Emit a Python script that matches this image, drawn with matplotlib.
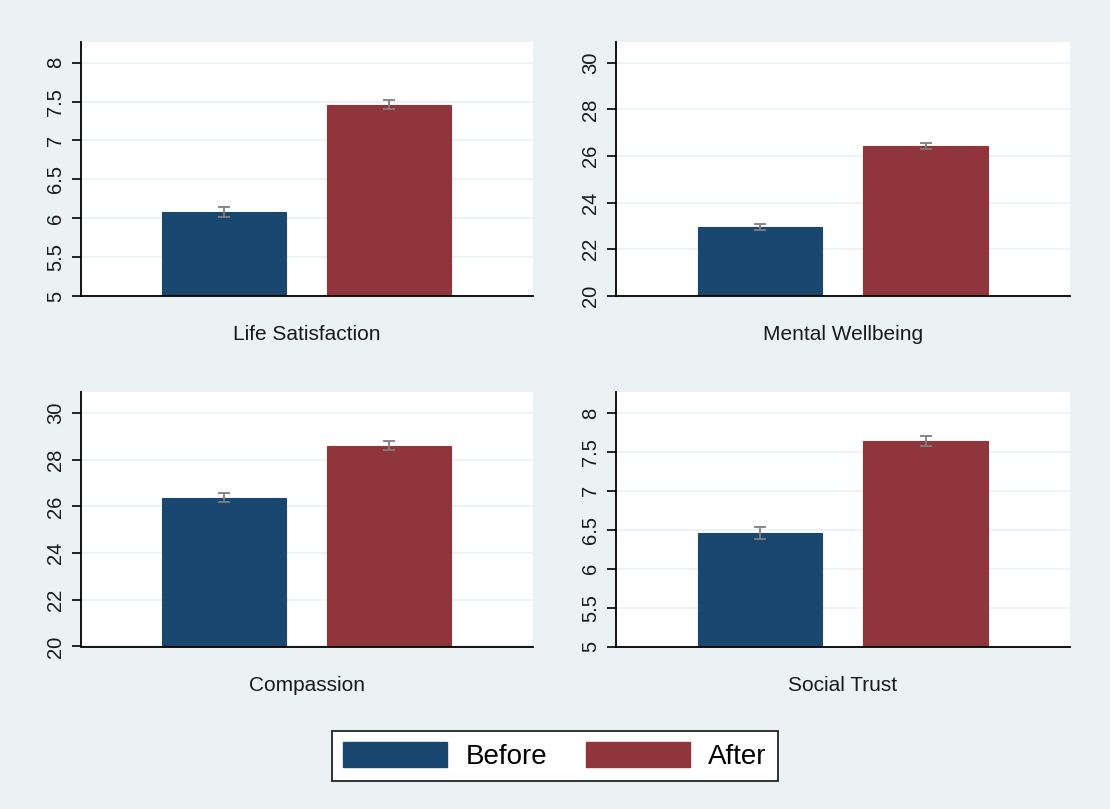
import matplotlib
matplotlib.use("Agg")
import matplotlib.pyplot as plt
from matplotlib.patches import Patch

plt.rcParams['font.family'] = ['Liberation Sans', 'DejaVu Sans']

# ---- data ----
categories = ['Life Satisfaction', 'Mental Wellbeing', 'Compassion', 'Social Trust']
before_vals = [6.08, 22.96, 26.38, 6.46]
after_vals = [7.46, 26.42, 28.60, 7.64]
before_err = [0.07, 0.14, 0.20, 0.08]
after_err = [0.06, 0.14, 0.20, 0.07]
series_names = ['Before', 'After']

ticks_small = [5, 5.5, 6, 6.5, 7, 7.5, 8]
ticks_small_labels = ['5', '5.5', '6', '6.5', '7', '7.5', '8']
ticks_large = [20, 22, 24, 26, 28, 30]
ticks_large_labels = ['20', '22', '24', '26', '28', '30']

panel_ticks = [(ticks_small, ticks_small_labels, (5, 8.27)),
               (ticks_large, ticks_large_labels, (20, 30.9)),
               (ticks_large, ticks_large_labels, (20, 30.9)),
               (ticks_small, ticks_small_labels, (5, 8.27))]

# ---- style ----
BG = '#EAF2F3'
NAVY = '#1A476F'
MAROON = '#90353B'
ERR = '#7f7f7f'

fig = plt.figure(figsize=(11.10, 8.09), dpi=100, facecolor=BG)

W, H = 1110, 809
def frac(x0, y0, x1, y1):
    return [x0 / W, 1 - y1 / H, (x1 - x0) / W, (y1 - y0) / H]

positions = [frac(81, 41.7, 533, 296), frac(616, 41.7, 1070, 296),
             frac(81, 392, 533, 646.5), frac(616, 392, 1070, 646.5)]

for i, cat in enumerate(categories):
    ax = fig.add_axes(positions[i])
    ax.set_facecolor('white')
    ticks, labels, ylim = panel_ticks[i]
    ax.bar(0, before_vals[i], width=0.75, color=NAVY, edgecolor=NAVY, linewidth=0.8, zorder=2)
    ax.bar(1, after_vals[i], width=0.75, color=MAROON, edgecolor=MAROON, linewidth=0.8, zorder=2)
    ax.errorbar([0, 1], [before_vals[i], after_vals[i]], yerr=[before_err[i], after_err[i]],
                fmt='none', ecolor=ERR, elinewidth=1.3, capsize=4, capthick=1.3, zorder=3)
    ax.set_xlim(-0.867, 1.87)
    ax.set_ylim(*ylim)
    ax.set_yticks(ticks)
    ax.set_yticklabels(labels, rotation=90, va='center')
    ax.set_xticks([])
    ax.yaxis.grid(True, color=BG, linewidth=1.3, zorder=0)
    ax.set_axisbelow(True)
    for s in ['top', 'right']:
        ax.spines[s].set_visible(False)
    for s in ['left', 'bottom']:
        ax.spines[s].set_color('black')
        ax.spines[s].set_linewidth(1.3)
        ax.spines[s].set_zorder(4)
    ax.tick_params(axis='y', direction='out', length=6.5, width=1.2, color='black',
                   labelsize=14.5, pad=5, labelcolor='#1a1a1a')
    ax.set_xlabel(cat, fontsize=15, labelpad=21, color='#1a1a1a')

handles = [Patch(facecolor=NAVY, edgecolor=NAVY), Patch(facecolor=MAROON, edgecolor=MAROON)]
leg = fig.legend(handles, series_names, loc='center', bbox_to_anchor=(0.5, 1 - 756 / H),
                 ncol=2, fontsize=20, frameon=True, fancybox=False, framealpha=1,
                 facecolor='white', edgecolor='#222222', handlelength=3.75, handleheight=1.0,
                 handletextpad=0.65, columnspacing=1.4, borderpad=0.4)
leg.get_frame().set_linewidth(1.3)

fig.savefig('out.png', dpi=100, facecolor=BG)
